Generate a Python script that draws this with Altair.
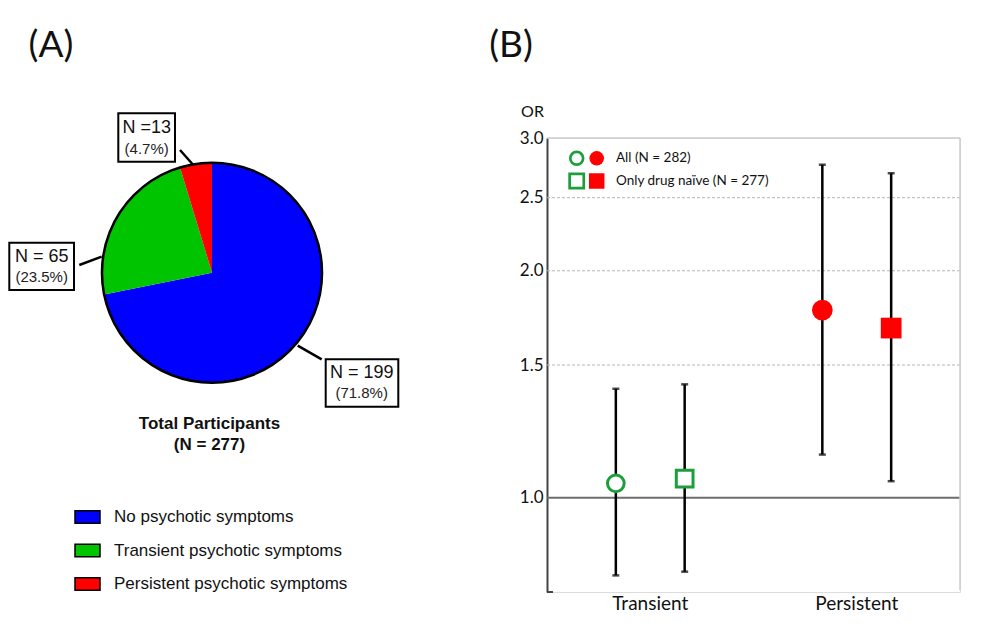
import altair as alt
import pandas as pd
import math

# ---------------- data ----------------
pie_categories = ["No psychotic symptoms", "Transient psychotic symptoms", "Persistent psychotic symptoms"]
pie_counts = [199, 65, 13]
pie_pct = [71.8, 23.5, 4.7]
pie_colors = ["#0000ff", "#00c400", "#ff0000"]
pie_count_labels = ["N = 199", "N = 65", "N =13"]

or_groups = ["Transient", "Transient", "Persistent", "Persistent"]
or_samples = ["All", "Only drug naïve", "All", "Only drug naïve"]
or_values = [1.045, 1.06, 1.774, 1.679]
or_lower = [0.789, 0.798, 1.141, 1.052]
or_upper = [1.395, 1.414, 2.765, 2.694]
y_ticks = [1.0, 1.5, 2.0, 2.5, 3.0]
grid_values = [1.5, 2.0, 2.5]
legend_labels = ["All (N = 282)", "Only drug naïve (N = 277)"]

GREEN = "#1c9e3a"
RED = "#ff0000"
ARIAL = "Liberation Sans"
CAL = "Lato"

pie_df = pd.DataFrame({"category": pie_categories, "count": pie_counts, "idx": [0, 1, 2]})
or_df = pd.DataFrame({"group": or_groups, "sample": or_samples, "or": or_values,
                      "lo": or_lower, "hi": or_upper})
grid_df = pd.DataFrame({"v": grid_values})
one = pd.DataFrame({"a": [0]})

W, H = 413, 454
PCX, PCY, PR = -335, 134.7, 110

# ---------------- panel A ----------------
pie = alt.Chart(pie_df).mark_arc(radius=PR).encode(
    theta=alt.Theta("count:Q", stack=True),
    order=alt.Order("idx:Q"),
    color=alt.Color("category:N",
                    scale=alt.Scale(domain=pie_categories, range=pie_colors),
                    sort=pie_categories,
                    legend=alt.Legend(orient="none", legendX=-473, legendY=365.5, title=None,
                                      symbolType="M-1,-0.5H1V0.5H-1Z", symbolSize=625,
                                      symbolStrokeColor="black", symbolStrokeWidth=1.5,
                                      symbolOpacity=1, labelFont=ARIAL, labelFontSize=17,
                                      labelColor="#111", labelOffset=13, rowPadding=10.5,
                                      padding=0, labelLimit=400)),
    x=alt.value(PCX), y=alt.value(PCY),
)
outline = alt.Chart(one).mark_arc(radius=PR, theta=0, theta2=2 * math.pi, filled=False,
                                  stroke="black", strokeWidth=2.5).encode(
    x=alt.value(PCX), y=alt.value(PCY))

layers_a = [pie, outline]

# callout lines and label boxes
callouts = [(-367, 12, -353.7, 27), (-467.7, 127, -445.3, 118.7), (-249.3, 207.7, -225.3, 221.3)]
for (x1, y1, x2, y2) in callouts:
    layers_a.append(alt.Chart(one).mark_rule(color="black", strokeWidth=2.5).encode(
        x=alt.value(x1), y=alt.value(y1), x2=alt.value(x2), y2=alt.value(y2)))

boxes = [(-221.3, 221.3, -148.7, 268.7), (-537.7, 104.7, -473, 152), (-428.7, -24.7, -372, 23.7)]
label_pos = [(-185.3, 235.3, 255.3), (-505.3, 118.7, 138.7), (-400.3, -9.7, 11.3)]
for i in range(3):
    x1, y1, x2, y2 = boxes[i]
    layers_a.append(alt.Chart(one).mark_rect(fill="white", stroke="black", strokeWidth=2).encode(
        x=alt.value(x1), y=alt.value(y1), x2=alt.value(x2), y2=alt.value(y2)))
    cx, ty1, ty2 = label_pos[i]
    t = pd.DataFrame({"n": [pie_count_labels[i]], "p": [f"({pie_pct[i]}%)"]})
    layers_a.append(alt.Chart(t).mark_text(font=ARIAL, fontSize=18, color="#111",
                                           baseline="middle").encode(
        text="n:N", x=alt.value(cx), y=alt.value(ty1)))
    layers_a.append(alt.Chart(t).mark_text(font=ARIAL, fontSize=15, color="#222",
                                           baseline="middle").encode(
        text="p:N", x=alt.value(cx), y=alt.value(ty2)))

for txt, yy in [("Total Participants", 286), ("(N = 277)", 307)]:
    layers_a.append(alt.Chart(pd.DataFrame({"t": [txt]})).mark_text(
        font=ARIAL, fontSize=17, fontWeight="bold", color="#111", baseline="middle").encode(
        text="t:N", x=alt.value(-337.5), y=alt.value(yy)))

for txt, xx in [("(A)", -496), ("(B)", -36)]:
    layers_a.append(alt.Chart(pd.DataFrame({"t": [txt]})).mark_text(
        font=CAL, fontSize=37, color="#111", baseline="middle").encode(
        text="t:N", x=alt.value(xx), y=alt.value(-92)))

# ---------------- panel B ----------------
xenc = alt.X("group:N", sort=["Transient", "Persistent"],
             scale=alt.Scale(paddingInner=0, paddingOuter=0),
             axis=alt.Axis(title=None, domain=False, ticks=False, labelAngle=0,
                           labelFont=CAL, labelFontSize=19, labelColor="#111",
                           labelPadding=2))
xoff = alt.XOffset("sample:N", sort=["All", "Only drug naïve"],
                   scale=alt.Scale(paddingInner=0, paddingOuter=0.5))
yscale = alt.Scale(type="log", domain=[0.75, 3.0], nice=False)
yaxis = alt.Axis(values=y_ticks, format=".1f", tickSize=0, grid=False, labelPadding=4,
                 labelFont=CAL, labelFontSize=17, labelColor="#111",
                 domainColor="#444", domainWidth=2,
                 title="OR", titleAngle=0, titleX=-15, titleY=-27, titleAlign="center",
                 titleBaseline="middle", titleFont=CAL, titleFontSize=16,
                 titleFontWeight="normal", titleColor="#111")

grid = alt.Chart(grid_df).mark_rule(color="#b5b5b5", strokeWidth=1, strokeDash=[3, 2]).encode(
    y=alt.Y("v:Q", scale=yscale, axis=yaxis))
base1 = alt.Chart(pd.DataFrame({"v": [1.0]})).mark_rule(color="#6e6e6e", strokeWidth=2).encode(
    y=alt.Y("v:Q", scale=yscale))
top = alt.Chart(pd.DataFrame({"v": [3.0]})).mark_rule(color="#cccccc", strokeWidth=1.5).encode(
    y=alt.Y("v:Q", scale=yscale))
right = alt.Chart(one).mark_rule(color="#cccccc", strokeWidth=1.5).encode(
    x=alt.value(W), y=alt.value(0), y2=alt.value(H - 2))
stub = alt.Chart(one).mark_rule(color="#444", strokeWidth=2).encode(
    x=alt.value(0), x2=alt.value(6), y=alt.value(H))

bars = alt.Chart(or_df).mark_rule(color="black", strokeWidth=2.5).encode(
    x=xenc, xOffset=xoff, y=alt.Y("lo:Q", scale=yscale), y2="hi:Q")
cap_lo = alt.Chart(or_df).mark_tick(color="black", thickness=2.5, size=7).encode(
    x=xenc, xOffset=xoff, y=alt.Y("lo:Q", scale=yscale))
cap_hi = alt.Chart(or_df).mark_tick(color="black", thickness=2.5, size=7).encode(
    x=xenc, xOffset=xoff, y=alt.Y("hi:Q", scale=yscale))

is_pers = "datum.group == 'Persistent'"
pts = alt.Chart(or_df).mark_point(filled=False, opacity=1).encode(
    x=xenc, xOffset=xoff, y=alt.Y("or:Q", scale=yscale),
    shape=alt.Shape("sample:N", scale=alt.Scale(domain=["All", "Only drug naïve"],
                                                range=["circle", "square"]), legend=None),
    fill=alt.condition(is_pers, alt.value(RED), alt.value("white")),
    stroke=alt.condition(is_pers, alt.value(RED), alt.value(GREEN)),
    strokeWidth=alt.condition(is_pers, alt.value(0), alt.value(3)),
    size=alt.condition(is_pers, alt.value(430), alt.value(280)),
)

# panel B legend
leg_layers = []
sym = [(29.7, 20.3, "circle", False, 165), (49.7, 20.3, "circle", True, 210),
       (29.7, 43, "square", False, 200), (49.7, 43, "square", True, 240)]
for (sx, sy, shp, filled, sz) in sym:
    if filled:
        m = alt.Chart(one).mark_point(shape=shp, filled=True, fill=RED, stroke=RED,
                                      strokeWidth=0, size=sz, opacity=1)
    else:
        m = alt.Chart(one).mark_point(shape=shp, filled=False, stroke=GREEN,
                                      strokeWidth=2.7, size=sz, opacity=1)
    leg_layers.append(m.encode(x=alt.value(sx), y=alt.value(sy)))
for lab, yy in zip(legend_labels, [20.3, 43]):
    leg_layers.append(alt.Chart(pd.DataFrame({"t": [lab]})).mark_text(
        font=CAL, fontSize=13.5, color="#111", align="left", baseline="middle").encode(
        text="t:N", x=alt.value(69), y=alt.value(yy)))

chart = alt.layer(
    grid, top, base1, right, stub, bars, cap_lo, cap_hi, pts, *leg_layers, *layers_a
).resolve_scale(color="independent").properties(
    width=W, height=H,
    autosize=alt.AutoSizeParams(type="none"),
    padding={"left": 539, "top": 130, "right": 32, "bottom": 34},
).configure_view(stroke=None).configure(background="white")

chart.save("out.html", embed_options={"renderer": "svg", "actions": False})
